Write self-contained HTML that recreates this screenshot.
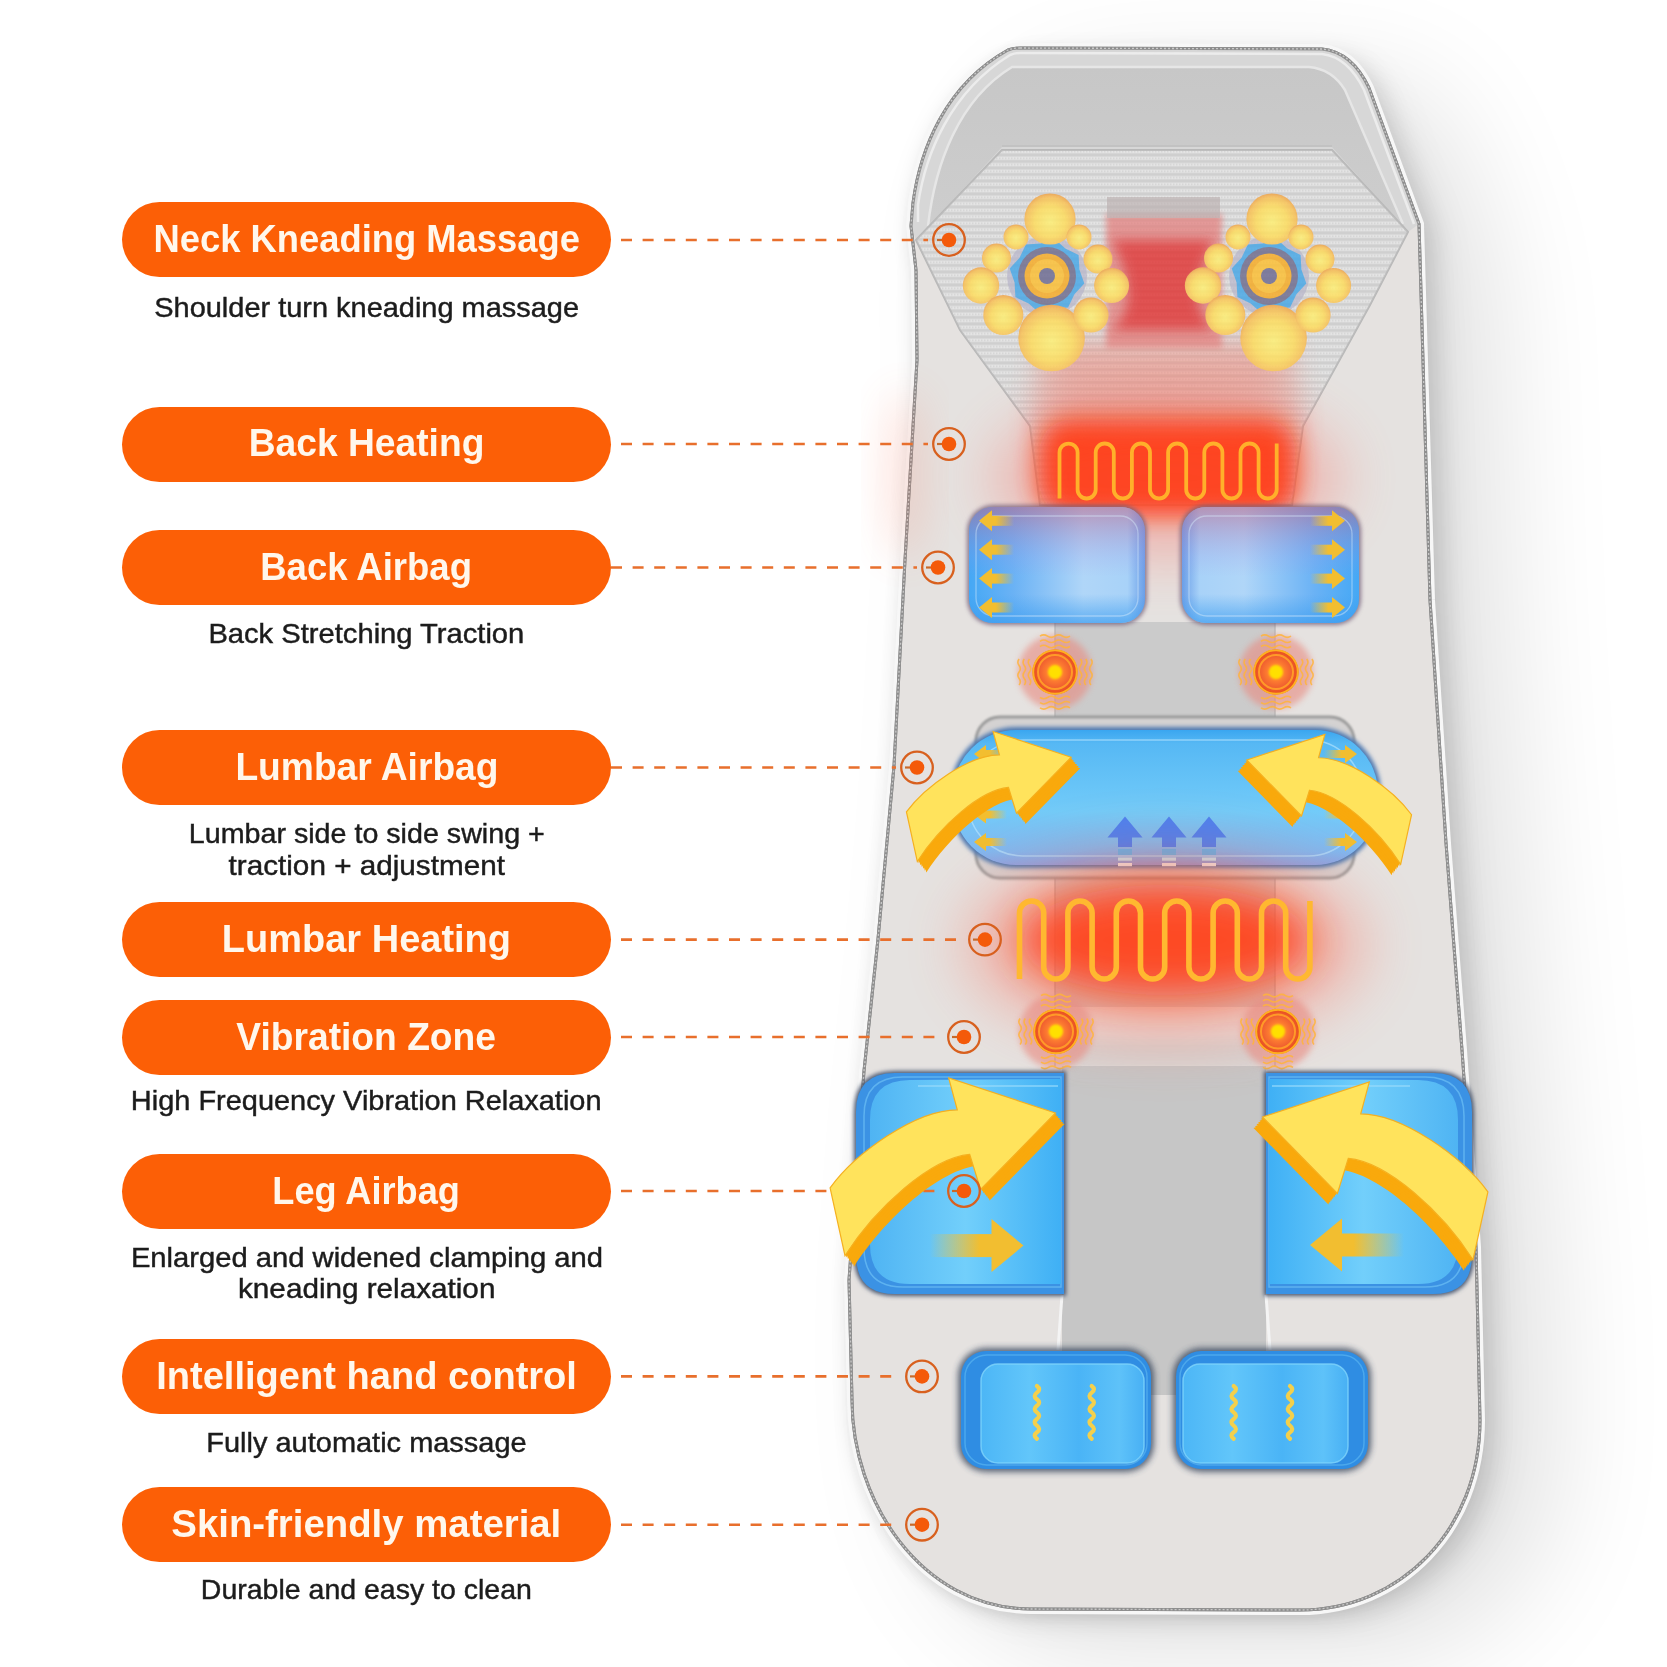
<!DOCTYPE html>
<html><head><meta charset="utf-8"><style>
html,body{margin:0;padding:0;background:#fff;width:1667px;height:1667px;overflow:hidden;position:relative}
svg{position:absolute;left:0;top:0}
.pill{position:absolute;left:122px;width:489px;height:75px;border-radius:37.5px;background:#fc5f06}
.t span,.s span{display:inline-block;transform-origin:50% 0}
.t{position:absolute;left:0;width:733.0px;text-align:center;font-family:"Liberation Sans",sans-serif;font-weight:bold;font-size:39.0px;line-height:39.0px;color:#fff7ec;white-space:nowrap}
.s{position:absolute;left:0;width:733.0px;text-align:center;font-family:"Liberation Sans",sans-serif;font-size:28.3px;line-height:28.3px;color:#1c1c1c;white-space:nowrap;-webkit-text-stroke:0.45px #1c1c1c}
</style></head><body>
<svg width="1667" height="1667" viewBox="0 0 1667 1667">
<defs>
<filter id="b1" x="-60%" y="-60%" width="220%" height="220%"><feGaussianBlur stdDeviation="1"/></filter>
<filter id="b2" x="-60%" y="-60%" width="220%" height="220%"><feGaussianBlur stdDeviation="2"/></filter>
<filter id="b3" x="-60%" y="-60%" width="220%" height="220%"><feGaussianBlur stdDeviation="3"/></filter>
<filter id="b4" x="-60%" y="-60%" width="220%" height="220%"><feGaussianBlur stdDeviation="4"/></filter>
<filter id="b6" x="-60%" y="-60%" width="220%" height="220%"><feGaussianBlur stdDeviation="6"/></filter>
<filter id="b8" x="-60%" y="-60%" width="220%" height="220%"><feGaussianBlur stdDeviation="8"/></filter>
<filter id="b12" x="-60%" y="-60%" width="220%" height="220%"><feGaussianBlur stdDeviation="12"/></filter>
<filter id="b20" x="-60%" y="-60%" width="220%" height="220%"><feGaussianBlur stdDeviation="20"/></filter>
<filter id="b30" x="-60%" y="-60%" width="220%" height="220%"><feGaussianBlur stdDeviation="30"/></filter>
<filter id="b40" x="-60%" y="-60%" width="220%" height="220%"><feGaussianBlur stdDeviation="40"/></filter>
<filter id="b60" x="-60%" y="-60%" width="220%" height="220%"><feGaussianBlur stdDeviation="60"/></filter>
<pattern id="mesh" width="6" height="6.5" patternUnits="userSpaceOnUse"><rect width="6" height="6.5" fill="#cfcfcf"/><rect y="0.5" width="6" height="3.4" fill="#e4e4e4"/><rect x="0" y="1.5" width="1.5" height="1.5" fill="#d4d4d4"/><rect x="3" y="1.5" width="1.5" height="1.5" fill="#d4d4d4"/></pattern>
<linearGradient id="bagL" x1="0" y1="0" x2="1" y2="0"><stop offset="0" stop-color="#45a8f5"/><stop offset="0.25" stop-color="#6ab2f5"/><stop offset="0.65" stop-color="#b0d6f8"/><stop offset="0.9" stop-color="#a8d2f8"/><stop offset="1" stop-color="#6a9ee8"/></linearGradient><linearGradient id="bagTop" x1="0" y1="0" x2="0" y2="1"><stop offset="0" stop-color="#c06080" stop-opacity="0.55"/><stop offset="0.45" stop-color="#a090e0" stop-opacity="0.15"/><stop offset="0.6" stop-color="#a090e0" stop-opacity="0"/></linearGradient><linearGradient id="bagBot" x1="0" y1="0" x2="0" y2="1"><stop offset="0.75" stop-color="#40a0f0" stop-opacity="0"/><stop offset="1" stop-color="#3a9cf0" stop-opacity="0.7"/></linearGradient>
<linearGradient id="bagR" x1="1" y1="0" x2="0" y2="0"><stop offset="0" stop-color="#45a8f5"/><stop offset="0.25" stop-color="#6ab2f5"/><stop offset="0.65" stop-color="#b0d6f8"/><stop offset="0.9" stop-color="#a8d2f8"/><stop offset="1" stop-color="#6a9ee8"/></linearGradient>
<linearGradient id="lumb" x1="0" y1="0" x2="0" y2="1"><stop offset="0" stop-color="#3aa6f0"/><stop offset="0.1" stop-color="#56b8f4"/><stop offset="0.6" stop-color="#72cbf9"/><stop offset="0.9" stop-color="#80b8f0"/><stop offset="1" stop-color="#8aa6e6"/></linearGradient>
<linearGradient id="legL" x1="0" y1="0" x2="1" y2="0"><stop offset="0" stop-color="#4fb4f3"/><stop offset="0.5" stop-color="#72cffb"/><stop offset="1" stop-color="#3fb0f5"/></linearGradient>
<linearGradient id="legR" x1="1" y1="0" x2="0" y2="0"><stop offset="0" stop-color="#4fb4f3"/><stop offset="0.5" stop-color="#72cffb"/><stop offset="1" stop-color="#3fb0f5"/></linearGradient>
<linearGradient id="foot" x1="0" y1="0" x2="1" y2="0"><stop offset="0" stop-color="#4cb6f6"/><stop offset="0.3" stop-color="#62c6fa"/><stop offset="0.6" stop-color="#4ab4f6"/><stop offset="0.85" stop-color="#5ec2f9"/><stop offset="1" stop-color="#48b0f4"/></linearGradient>
<radialGradient id="ball" cx="0.5" cy="0.55" r="0.55"><stop offset="0" stop-color="#fff070"/><stop offset="0.55" stop-color="#ffdc58"/><stop offset="0.85" stop-color="#fac050"/><stop offset="1" stop-color="#f0a044"/></radialGradient>
<radialGradient id="vib" cx="0.5" cy="0.5" r="0.5"><stop offset="0" stop-color="#ffd000"/><stop offset="0.35" stop-color="#ff8030"/><stop offset="0.7" stop-color="#f06030"/><stop offset="1" stop-color="#e64a1e"/></radialGradient>
<linearGradient id="tailR" x1="0" x2="1"><stop offset="0" stop-color="#f2c230" stop-opacity="0"/><stop offset="0.8" stop-color="#f2be30"/><stop offset="1" stop-color="#f2be30"/></linearGradient>
<linearGradient id="tailL" x1="1" x2="0"><stop offset="0" stop-color="#f2c230" stop-opacity="0"/><stop offset="0.8" stop-color="#f2be30"/><stop offset="1" stop-color="#f2be30"/></linearGradient>
<linearGradient id="shadR" x1="0" x2="1"><stop offset="0" stop-color="#cfcfcf"/><stop offset="1" stop-color="#ffffff" stop-opacity="0"/></linearGradient>
<linearGradient id="pillow" x1="0" y1="0" x2="0" y2="1"><stop offset="0" stop-color="#c7c7c7"/><stop offset="1" stop-color="#cecece"/></linearGradient>
</defs>
<path d="M1020,48 L1322,49 Q1352,52 1369,88 L1419,224 L1430,600 L1446,843 L1462,1050 L1476,1247 L1480,1420 C1480,1530 1400,1610 1300,1610 L1030,1609 C920,1608 852,1500 852,1400 L849,1280 L864,1071 L878,939 L894,766 L905,560 L917,360 L916,270 L911,226 L913,203 C920,150 945,85 1008,50 Q1013,48 1020,48 Z" transform="translate(70,40)" fill="#000" opacity="0.12" filter="url(#b60)"/>
<path d="M1020,48 L1322,49 Q1352,52 1369,88 L1419,224 L1430,600 L1446,843 L1462,1050 L1476,1247 L1480,1420 C1480,1530 1400,1610 1300,1610 L1030,1609 C920,1608 852,1500 852,1400 L849,1280 L864,1071 L878,939 L894,766 L905,560 L917,360 L916,270 L911,226 L913,203 C920,150 945,85 1008,50 Q1013,48 1020,48 Z" transform="translate(22,12)" fill="#000" opacity="0.05" filter="url(#b20)"/>
<path d="M1020,48 L1322,49 Q1352,52 1369,88 L1419,224 L1430,600 L1446,843 L1462,1050 L1476,1247 L1480,1420 C1480,1530 1400,1610 1300,1610 L1030,1609 C920,1608 852,1500 852,1400 L849,1280 L864,1071 L878,939 L894,766 L905,560 L917,360 L916,270 L911,226 L913,203 C920,150 945,85 1008,50 Q1013,48 1020,48 Z" transform="translate(12,8)" fill="#000" opacity="0.12" filter="url(#b12)"/>
<path d="M1020,48 L1322,49 Q1352,52 1369,88 L1419,224 L1430,600 L1446,843 L1462,1050 L1476,1247 L1480,1420 C1480,1530 1400,1610 1300,1610 L1030,1609 C920,1608 852,1500 852,1400 L849,1280 L864,1071 L878,939 L894,766 L905,560 L917,360 L916,270 L911,226 L913,203 C920,150 945,85 1008,50 Q1013,48 1020,48 Z" transform="translate(-6,4)" fill="#000" opacity="0.07" filter="url(#b8)"/>
<path d="M1020,48 L1322,49 Q1352,52 1369,88 L1419,224 L1430,600 L1446,843 L1462,1050 L1476,1247 L1480,1420 C1480,1530 1400,1610 1300,1610 L1030,1609 C920,1608 852,1500 852,1400 L849,1280 L864,1071 L878,939 L894,766 L905,560 L917,360 L916,270 L911,226 L913,203 C920,150 945,85 1008,50 Q1013,48 1020,48 Z" fill="#f7f7f7" stroke="#f7f7f7" stroke-width="10"/>
<path d="M1020,48 L1322,49 Q1352,52 1369,88 L1419,224 L1430,600 L1446,843 L1462,1050 L1476,1247 L1480,1420 C1480,1530 1400,1610 1300,1610 L1030,1609 C920,1608 852,1500 852,1400 L849,1280 L864,1071 L878,939 L894,766 L905,560 L917,360 L916,270 L911,226 L913,203 C920,150 945,85 1008,50 Q1013,48 1020,48 Z" fill="#e5e2e0"/>
<path d="M1020,48 L1322,49 Q1352,52 1369,88 L1419,224 L1430,600 L1446,843 L1462,1050 L1476,1247 L1480,1420 C1480,1530 1400,1610 1300,1610 L1030,1609 C920,1608 852,1500 852,1400 L849,1280 L864,1071 L878,939 L894,766 L905,560 L917,360 L916,270 L911,226 L913,203 C920,150 945,85 1008,50 Q1013,48 1020,48 Z" fill="none" stroke="#8e8e8e" stroke-width="3"/>
<path d="M1020,48 L1322,49 Q1352,52 1369,88 L1419,224 L1430,600 L1446,843 L1462,1050 L1476,1247 L1480,1420 C1480,1530 1400,1610 1300,1610 L1030,1609 C920,1608 852,1500 852,1400 L849,1280 L864,1071 L878,939 L894,766 L905,560 L917,360 L916,270 L911,226 L913,203 C920,150 945,85 1008,50 Q1013,48 1020,48 Z" fill="none" stroke="#c8c8c8" stroke-width="1.3" stroke-dasharray="2 2"/>
<path d="M1020,48 L1322,49 Q1352,52 1369,88 L1419,224 L1408,232 L916,240 L911,226 L913,203 C920,150 945,85 1008,50 Q1013,48 1020,48 Z" fill="#d7d7d7"/>
<path d="M918,222 L918,205 C925,155 950,92 1010,55 Q1015,53 1020,53 L1322,54 Q1348,57 1364,90 L1414,224" fill="none" stroke="#ececec" stroke-width="2.5"/>
<path d="M1012,67 L1309,67 Q1332,69 1345,90 L1403,224 L1408,232 L1332,147 L1002,147 L916,240 L928,226 C935,165 958,100 1012,67 Z" fill="url(#pillow)"/>
<path d="M928,226 C935,165 958,100 1012,67 L1309,67 Q1332,69 1345,90 L1403,224" fill="none" stroke="#e6e6e6" stroke-width="2.5"/>
<path d="M1002,146 L1332,146" fill="none" stroke="#c2c2c2" stroke-width="2"/>
<path d="M1020,48 L1322,49 Q1352,52 1369,88 L1419,224 L1430,600 L1446,843 L1462,1050 L1476,1247 L1480,1420 C1480,1530 1400,1610 1300,1610 L1030,1609 C920,1608 852,1500 852,1400 L849,1280 L864,1071 L878,939 L894,766 L905,560 L917,360 L916,270 L911,226 L913,203 C920,150 945,85 1008,50 Q1013,48 1020,48 Z" fill="none" stroke="#8e8e8e" stroke-width="3"/>
<path d="M1020,48 L1322,49 Q1352,52 1369,88 L1419,224 L1430,600 L1446,843 L1462,1050 L1476,1247 L1480,1420 C1480,1530 1400,1610 1300,1610 L1030,1609 C920,1608 852,1500 852,1400 L849,1280 L864,1071 L878,939 L894,766 L905,560 L917,360 L916,270 L911,226 L913,203 C920,150 945,85 1008,50 Q1013,48 1020,48 Z" fill="none" stroke="#c8c8c8" stroke-width="1.3" stroke-dasharray="2 2"/>
<path d="M1002,150 L1332,150 L1408,232 L1370,305 L1303,426 L1292,505 L1040,505 L1030,426 L960,330 L916,240 Z" fill="url(#mesh)"/>
<path d="M1002,150 L1332,150 L1408,232 L1370,305 L1303,426 L1292,505 L1040,505 L1030,426 L960,330 L916,240 Z" fill="none" stroke="#b8b8b8" stroke-width="2"/>
<rect x="1055" y="622" width="220" height="105" fill="#cbcbcb"/>
<rect x="1055" y="867" width="220" height="140" fill="#d0cfcf"/>
<rect x="1062" y="1066" width="204" height="329" fill="#c6c6c6"/>
<rect x="1062" y="1040" width="204" height="30" fill="#c6c6c6" opacity="0.5" filter="url(#b8)"/>
<line x1="1055" y1="622" x2="1055" y2="1066" stroke="#b9b9b9" stroke-width="2" opacity="0.7"/>
<line x1="1275" y1="622" x2="1275" y2="1066" stroke="#b9b9b9" stroke-width="2" opacity="0.7"/>
<path d="M1062,1295 L1058,1350" stroke="#f4f4f4" stroke-width="3"/><path d="M1266,1295 L1270,1350" stroke="#f4f4f4" stroke-width="3"/>
<path d="M1040,340 L1292,340 L1303,426 L1292,505 L1040,505 L1030,426 Z" fill="#f08070" opacity="0.45" filter="url(#b12)"/>
<rect x="1106" y="214" width="116" height="134" fill="#e47a78" opacity="0.85" filter="url(#b3)"/>
<rect x="1060" y="350" width="210" height="80" fill="#f07a6a" opacity="0.22" filter="url(#b12)"/>
<path d="M1112,240 L1214,240 Q1196,275 1198,300 Q1200,318 1214,330 L1112,330 Q1126,318 1128,300 Q1130,275 1112,240 Z" fill="#e02a2a" opacity="0.9" filter="url(#b6)"/>
<rect x="1107" y="197" width="113" height="21" fill="#b8acac" opacity="0.75"/>
<circle cx="1047" cy="276" r="40" fill="#b4b2c8" opacity="0.8"/><polygon points="1084.3,283.4 1074.4,294.3 1068.1,307.6 1053.4,308.4 1039.6,313.3 1028.7,303.4 1015.4,297.1 1014.6,282.4 1009.7,268.6 1019.6,257.7 1025.9,244.4 1040.6,243.6 1054.4,238.7 1065.3,248.6 1078.6,254.9 1079.4,269.6" fill="#45a6e6"/><circle cx="1047" cy="276" r="29" fill="#6c6a8c"/><circle cx="1047" cy="276" r="22.5" fill="#f6aa22"/><circle cx="1047" cy="276" r="17" fill="#fcbe30"/><circle cx="1047" cy="276" r="8" fill="#6a6890"/><circle cx="1050" cy="219" r="25.6" fill="url(#ball)"/><circle cx="1051.6" cy="338" r="33.3" fill="url(#ball)"/><circle cx="1016" cy="237" r="12.5" fill="url(#ball)"/><circle cx="1079" cy="237" r="12.5" fill="url(#ball)"/><circle cx="996.5" cy="258" r="14.5" fill="url(#ball)"/><circle cx="1098" cy="259" r="14.5" fill="url(#ball)"/><circle cx="981" cy="285.5" r="18.2" fill="url(#ball)"/><circle cx="1111.6" cy="285.5" r="17.5" fill="url(#ball)"/><circle cx="1003.3" cy="315" r="20" fill="url(#ball)"/><circle cx="1091" cy="315" r="17.6" fill="url(#ball)"/>
<circle cx="1269" cy="276" r="40" fill="#b4b2c8" opacity="0.8"/><polygon points="1306.3,283.4 1296.4,294.3 1290.1,307.6 1275.4,308.4 1261.6,313.3 1250.7,303.4 1237.4,297.1 1236.6,282.4 1231.7,268.6 1241.6,257.7 1247.9,244.4 1262.6,243.6 1276.4,238.7 1287.3,248.6 1300.6,254.9 1301.4,269.6" fill="#45a6e6"/><circle cx="1269" cy="276" r="29" fill="#6c6a8c"/><circle cx="1269" cy="276" r="22.5" fill="#f6aa22"/><circle cx="1269" cy="276" r="17" fill="#fcbe30"/><circle cx="1269" cy="276" r="8" fill="#6a6890"/><circle cx="1272" cy="219" r="25.6" fill="url(#ball)"/><circle cx="1273.6" cy="338" r="33.3" fill="url(#ball)"/><circle cx="1238" cy="237" r="12.5" fill="url(#ball)"/><circle cx="1301" cy="237" r="12.5" fill="url(#ball)"/><circle cx="1218.5" cy="258" r="14.5" fill="url(#ball)"/><circle cx="1320" cy="259" r="14.5" fill="url(#ball)"/><circle cx="1203" cy="285.5" r="18.2" fill="url(#ball)"/><circle cx="1333.6" cy="285.5" r="17.5" fill="url(#ball)"/><circle cx="1225.3" cy="315" r="20" fill="url(#ball)"/><circle cx="1313" cy="315" r="17.6" fill="url(#ball)"/>
<path d="M1002,150 L1332,150 L1408,232 L1370,305 L1303,426 L1292,505 L1040,505 L1030,426 L960,330 L916,240 Z" fill="url(#mesh)" opacity="0.18"/>
<rect x="1040" y="420" width="255" height="95" rx="30" fill="#ff3a10" opacity="0.95" filter="url(#b12)"/>
<ellipse cx="1167" cy="478" rx="175" ry="78" fill="#ff5040" opacity="0.32" filter="url(#b30)"/>
<ellipse cx="905" cy="475" rx="20" ry="85" fill="#ff7050" opacity="0.18" filter="url(#b20)"/>
<path d="M1059.5,498.5 L1059.5,452.55 A9.05,9.05 0 0 1 1077.6,452.55 L1077.6,489.45 A9.05,9.05 0 0 0 1095.6999999999998,489.45 L1095.6999999999998,452.55 A9.05,9.05 0 0 1 1113.7999999999997,452.55 L1113.7999999999997,489.45 A9.05,9.05 0 0 0 1131.8999999999996,489.45 L1131.8999999999996,452.55 A9.05,9.05 0 0 1 1149.9999999999995,452.55 L1149.9999999999995,489.45 A9.05,9.05 0 0 0 1168.0999999999995,489.45 L1168.0999999999995,452.55 A9.05,9.05 0 0 1 1186.1999999999994,452.55 L1186.1999999999994,489.45 A9.05,9.05 0 0 0 1204.2999999999993,489.45 L1204.2999999999993,452.55 A9.05,9.05 0 0 1 1222.3999999999992,452.55 L1222.3999999999992,489.45 A9.05,9.05 0 0 0 1240.499999999999,489.45 L1240.499999999999,452.55 A9.05,9.05 0 0 1 1258.599999999999,452.55 L1258.599999999999,489.45 A9.05,9.05 0 0 0 1276.699999999999,489.45 L1276.699999999999,443.5" fill="none" stroke="#ffb02a" stroke-width="3.8"/>
<rect x="967" y="505" width="180" height="120" rx="26" fill="#74607a" opacity="0.8" filter="url(#b2)"/><rect x="969" y="507" width="176" height="116" rx="24" fill="url(#bagL)"/><rect x="969" y="507" width="176" height="116" rx="24" fill="url(#bagTop)"/><rect x="969" y="507" width="176" height="116" rx="24" fill="url(#bagBot)"/><rect x="976" y="516" width="162" height="100" rx="18" fill="none" stroke="#d8ecfb" stroke-width="1.3" opacity="0.45"/>
<rect x="1180" y="505" width="181" height="120" rx="26" fill="#74607a" opacity="0.8" filter="url(#b2)"/><rect x="1182" y="507" width="177" height="116" rx="24" fill="url(#bagR)"/><rect x="1182" y="507" width="177" height="116" rx="24" fill="url(#bagTop)"/><rect x="1182" y="507" width="177" height="116" rx="24" fill="url(#bagBot)"/><rect x="1189" y="516" width="163" height="100" rx="18" fill="none" stroke="#d8ecfb" stroke-width="1.3" opacity="0.45"/>
<rect x="991" y="515.8" width="23" height="10" fill="url(#tailL)"/><path d="M979,520.8 L992,510.29999999999995 L992,531.3 Z" fill="#f2be30"/>
<rect x="1310" y="515.8" width="23" height="10" fill="url(#tailR)"/><path d="M1345,520.8 L1332,510.29999999999995 L1332,531.3 Z" fill="#f2be30"/>
<rect x="991" y="544.7" width="23" height="10" fill="url(#tailL)"/><path d="M979,549.7 L992,539.2 L992,560.2 Z" fill="#f2be30"/>
<rect x="1310" y="544.7" width="23" height="10" fill="url(#tailR)"/><path d="M1345,549.7 L1332,539.2 L1332,560.2 Z" fill="#f2be30"/>
<rect x="991" y="573.6" width="23" height="10" fill="url(#tailL)"/><path d="M979,578.6 L992,568.1 L992,589.1 Z" fill="#f2be30"/>
<rect x="1310" y="573.6" width="23" height="10" fill="url(#tailR)"/><path d="M1345,578.6 L1332,568.1 L1332,589.1 Z" fill="#f2be30"/>
<rect x="991" y="602.5" width="23" height="10" fill="url(#tailL)"/><path d="M979,607.5 L992,597.0 L992,618.0 Z" fill="#f2be30"/>
<rect x="1310" y="602.5" width="23" height="10" fill="url(#tailR)"/><path d="M1345,607.5 L1332,597.0 L1332,618.0 Z" fill="#f2be30"/>
<circle cx="1055" cy="672" r="37" fill="#e88a80" opacity="0.6" filter="url(#b3)"/><circle cx="1055" cy="672" r="22.5" fill="url(#vib)"/><circle cx="1055" cy="672" r="21.8" fill="none" stroke="#ffb020" stroke-width="2"/><circle cx="1055" cy="672" r="17" fill="none" stroke="#ff9a28" stroke-width="2"/><circle cx="1055" cy="672" r="7" fill="#ffe000" filter="url(#b1)"/><path d="M1029.5,659 q-2.5,3.25 0,6.5 q2.5,3.25 0,6.5 q-2.5,3.25 0,6.5 q2.5,3.25 0,6.5" fill="none" stroke="#ffb43a" stroke-width="1.6" opacity="0.85"/><path d="M1080.5,659 q2.5,3.25 0,6.5 q-2.5,3.25 0,6.5 q2.5,3.25 0,6.5 q-2.5,3.25 0,6.5" fill="none" stroke="#ffb43a" stroke-width="1.6" opacity="0.85"/><path d="M1040,646.5 q3.75,-2.5 7.5,0 q3.75,2.5 7.5,0 q3.75,-2.5 7.5,0 q3.75,2.5 7.5,0" fill="none" stroke="#ffb43a" stroke-width="1.6" opacity="0.85"/><path d="M1040,697.5 q3.75,2.5 7.5,0 q3.75,-2.5 7.5,0 q3.75,2.5 7.5,0 q3.75,-2.5 7.5,0" fill="none" stroke="#ffb43a" stroke-width="1.6" opacity="0.85"/><path d="M1024.3,659 q-2.5,3.25 0,6.5 q2.5,3.25 0,6.5 q-2.5,3.25 0,6.5 q2.5,3.25 0,6.5" fill="none" stroke="#ffb43a" stroke-width="1.6" opacity="0.85"/><path d="M1085.7,659 q2.5,3.25 0,6.5 q-2.5,3.25 0,6.5 q2.5,3.25 0,6.5 q-2.5,3.25 0,6.5" fill="none" stroke="#ffb43a" stroke-width="1.6" opacity="0.85"/><path d="M1040,641.3 q3.75,-2.5 7.5,0 q3.75,2.5 7.5,0 q3.75,-2.5 7.5,0 q3.75,2.5 7.5,0" fill="none" stroke="#ffb43a" stroke-width="1.6" opacity="0.85"/><path d="M1040,702.7 q3.75,2.5 7.5,0 q3.75,-2.5 7.5,0 q3.75,2.5 7.5,0 q3.75,-2.5 7.5,0" fill="none" stroke="#ffb43a" stroke-width="1.6" opacity="0.85"/><path d="M1019.1,659 q-2.5,3.25 0,6.5 q2.5,3.25 0,6.5 q-2.5,3.25 0,6.5 q2.5,3.25 0,6.5" fill="none" stroke="#ffb43a" stroke-width="1.6" opacity="0.85"/><path d="M1090.9,659 q2.5,3.25 0,6.5 q-2.5,3.25 0,6.5 q2.5,3.25 0,6.5 q-2.5,3.25 0,6.5" fill="none" stroke="#ffb43a" stroke-width="1.6" opacity="0.85"/><path d="M1040,636.1 q3.75,-2.5 7.5,0 q3.75,2.5 7.5,0 q3.75,-2.5 7.5,0 q3.75,2.5 7.5,0" fill="none" stroke="#ffb43a" stroke-width="1.6" opacity="0.85"/><path d="M1040,707.9 q3.75,2.5 7.5,0 q3.75,-2.5 7.5,0 q3.75,2.5 7.5,0 q3.75,-2.5 7.5,0" fill="none" stroke="#ffb43a" stroke-width="1.6" opacity="0.85"/>
<circle cx="1276" cy="672" r="37" fill="#e88a80" opacity="0.6" filter="url(#b3)"/><circle cx="1276" cy="672" r="22.5" fill="url(#vib)"/><circle cx="1276" cy="672" r="21.8" fill="none" stroke="#ffb020" stroke-width="2"/><circle cx="1276" cy="672" r="17" fill="none" stroke="#ff9a28" stroke-width="2"/><circle cx="1276" cy="672" r="7" fill="#ffe000" filter="url(#b1)"/><path d="M1250.5,659 q-2.5,3.25 0,6.5 q2.5,3.25 0,6.5 q-2.5,3.25 0,6.5 q2.5,3.25 0,6.5" fill="none" stroke="#ffb43a" stroke-width="1.6" opacity="0.85"/><path d="M1301.5,659 q2.5,3.25 0,6.5 q-2.5,3.25 0,6.5 q2.5,3.25 0,6.5 q-2.5,3.25 0,6.5" fill="none" stroke="#ffb43a" stroke-width="1.6" opacity="0.85"/><path d="M1261,646.5 q3.75,-2.5 7.5,0 q3.75,2.5 7.5,0 q3.75,-2.5 7.5,0 q3.75,2.5 7.5,0" fill="none" stroke="#ffb43a" stroke-width="1.6" opacity="0.85"/><path d="M1261,697.5 q3.75,2.5 7.5,0 q3.75,-2.5 7.5,0 q3.75,2.5 7.5,0 q3.75,-2.5 7.5,0" fill="none" stroke="#ffb43a" stroke-width="1.6" opacity="0.85"/><path d="M1245.3,659 q-2.5,3.25 0,6.5 q2.5,3.25 0,6.5 q-2.5,3.25 0,6.5 q2.5,3.25 0,6.5" fill="none" stroke="#ffb43a" stroke-width="1.6" opacity="0.85"/><path d="M1306.7,659 q2.5,3.25 0,6.5 q-2.5,3.25 0,6.5 q2.5,3.25 0,6.5 q-2.5,3.25 0,6.5" fill="none" stroke="#ffb43a" stroke-width="1.6" opacity="0.85"/><path d="M1261,641.3 q3.75,-2.5 7.5,0 q3.75,2.5 7.5,0 q3.75,-2.5 7.5,0 q3.75,2.5 7.5,0" fill="none" stroke="#ffb43a" stroke-width="1.6" opacity="0.85"/><path d="M1261,702.7 q3.75,2.5 7.5,0 q3.75,-2.5 7.5,0 q3.75,2.5 7.5,0 q3.75,-2.5 7.5,0" fill="none" stroke="#ffb43a" stroke-width="1.6" opacity="0.85"/><path d="M1240.1,659 q-2.5,3.25 0,6.5 q2.5,3.25 0,6.5 q-2.5,3.25 0,6.5 q2.5,3.25 0,6.5" fill="none" stroke="#ffb43a" stroke-width="1.6" opacity="0.85"/><path d="M1311.9,659 q2.5,3.25 0,6.5 q-2.5,3.25 0,6.5 q2.5,3.25 0,6.5 q-2.5,3.25 0,6.5" fill="none" stroke="#ffb43a" stroke-width="1.6" opacity="0.85"/><path d="M1261,636.1 q3.75,-2.5 7.5,0 q3.75,2.5 7.5,0 q3.75,-2.5 7.5,0 q3.75,2.5 7.5,0" fill="none" stroke="#ffb43a" stroke-width="1.6" opacity="0.85"/><path d="M1261,707.9 q3.75,2.5 7.5,0 q3.75,-2.5 7.5,0 q3.75,2.5 7.5,0 q3.75,-2.5 7.5,0" fill="none" stroke="#ffb43a" stroke-width="1.6" opacity="0.85"/>
<rect x="976" y="717" width="378" height="161" rx="24" fill="#d4d2d2" stroke="#9a9a9a" stroke-width="3" filter="url(#b1)"/>
<rect x="950" y="727" width="431" height="141" rx="66" fill="#4e78b0" filter="url(#b2)"/>
<rect x="953" y="730" width="425" height="135" rx="63" fill="url(#lumb)"/>
<rect x="968" y="740" width="395" height="116" rx="55" fill="none" stroke="#bde8ff" stroke-width="1.5" opacity="0.6"/>
<path d="M1125,816.5 L1142.5,837.5 L1132,837.5 L1132,847 L1118,847 L1118,837.5 L1107.5,837.5 Z" fill="#4a82f2"/>
<rect x="1118" y="849" width="14" height="6" fill="#5cb8f2"/><rect x="1118" y="857.5" width="14" height="3.2" fill="#bdeeff"/><rect x="1118" y="863" width="14" height="3.2" fill="#e6fbff"/>
<path d="M1169,816.5 L1186.5,837.5 L1176,837.5 L1176,847 L1162,847 L1162,837.5 L1151.5,837.5 Z" fill="#4a82f2"/>
<rect x="1162" y="849" width="14" height="6" fill="#5cb8f2"/><rect x="1162" y="857.5" width="14" height="3.2" fill="#bdeeff"/><rect x="1162" y="863" width="14" height="3.2" fill="#e6fbff"/>
<path d="M1209,816.5 L1226.5,837.5 L1216,837.5 L1216,847 L1202,847 L1202,837.5 L1191.5,837.5 Z" fill="#4a82f2"/>
<rect x="1202" y="849" width="14" height="6" fill="#5cb8f2"/><rect x="1202" y="857.5" width="14" height="3.2" fill="#bdeeff"/><rect x="1202" y="863" width="14" height="3.2" fill="#e6fbff"/>
<rect x="985" y="750.0" width="22" height="8" fill="url(#tailL)"/><path d="M974,754 L986,745 L986,763 Z" fill="#f2be30"/>
<rect x="1324" y="750.0" width="22" height="8" fill="url(#tailR)"/><path d="M1357,754 L1345,745 L1345,763 Z" fill="#f2be30"/>
<rect x="985" y="810.5" width="22" height="8" fill="url(#tailL)"/><path d="M974,814.5 L986,805.5 L986,823.5 Z" fill="#f2be30"/>
<rect x="1324" y="810.5" width="22" height="8" fill="url(#tailR)"/><path d="M1357,814.5 L1345,805.5 L1345,823.5 Z" fill="#f2be30"/>
<rect x="985" y="838.0" width="22" height="8" fill="url(#tailL)"/><path d="M974,842 L986,833 L986,851 Z" fill="#f2be30"/>
<rect x="1324" y="838.0" width="22" height="8" fill="url(#tailR)"/><path d="M1357,842 L1345,833 L1345,851 Z" fill="#f2be30"/>
<ellipse cx="1165" cy="940" rx="145" ry="55" fill="#ff3a10" opacity="0.95" filter="url(#b20)"/>
<ellipse cx="1165" cy="945" rx="200" ry="95" fill="#ff5a40" opacity="0.35" filter="url(#b30)"/>
<path d="M1019.5,979 L1019.5,913.1 A12.1,12.1 0 0 1 1043.7,913.1 L1043.7,966.9 A12.1,12.1 0 0 0 1067.9,966.9 L1067.9,913.1 A12.1,12.1 0 0 1 1092.1000000000001,913.1 L1092.1000000000001,966.9 A12.1,12.1 0 0 0 1116.3000000000002,966.9 L1116.3000000000002,913.1 A12.1,12.1 0 0 1 1140.5000000000002,913.1 L1140.5000000000002,966.9 A12.1,12.1 0 0 0 1164.7000000000003,966.9 L1164.7000000000003,913.1 A12.1,12.1 0 0 1 1188.9000000000003,913.1 L1188.9000000000003,966.9 A12.1,12.1 0 0 0 1213.1000000000004,966.9 L1213.1000000000004,913.1 A12.1,12.1 0 0 1 1237.3000000000004,913.1 L1237.3000000000004,966.9 A12.1,12.1 0 0 0 1261.5000000000005,966.9 L1261.5000000000005,913.1 A12.1,12.1 0 0 1 1285.7000000000005,913.1 L1285.7000000000005,966.9 A12.1,12.1 0 0 0 1309.9000000000005,966.9 L1309.9000000000005,901" fill="none" stroke="#ffb830" stroke-width="5.6"/>
<circle cx="1056" cy="1031.5" r="37" fill="#e88a80" opacity="0.6" filter="url(#b3)"/><circle cx="1056" cy="1031.5" r="22.5" fill="url(#vib)"/><circle cx="1056" cy="1031.5" r="21.8" fill="none" stroke="#ffb020" stroke-width="2"/><circle cx="1056" cy="1031.5" r="17" fill="none" stroke="#ff9a28" stroke-width="2"/><circle cx="1056" cy="1031.5" r="7" fill="#ffe000" filter="url(#b1)"/><path d="M1030.5,1018.5 q-2.5,3.25 0,6.5 q2.5,3.25 0,6.5 q-2.5,3.25 0,6.5 q2.5,3.25 0,6.5" fill="none" stroke="#ffb43a" stroke-width="1.6" opacity="0.85"/><path d="M1081.5,1018.5 q2.5,3.25 0,6.5 q-2.5,3.25 0,6.5 q2.5,3.25 0,6.5 q-2.5,3.25 0,6.5" fill="none" stroke="#ffb43a" stroke-width="1.6" opacity="0.85"/><path d="M1041,1006.0 q3.75,-2.5 7.5,0 q3.75,2.5 7.5,0 q3.75,-2.5 7.5,0 q3.75,2.5 7.5,0" fill="none" stroke="#ffb43a" stroke-width="1.6" opacity="0.85"/><path d="M1041,1057.0 q3.75,2.5 7.5,0 q3.75,-2.5 7.5,0 q3.75,2.5 7.5,0 q3.75,-2.5 7.5,0" fill="none" stroke="#ffb43a" stroke-width="1.6" opacity="0.85"/><path d="M1025.3,1018.5 q-2.5,3.25 0,6.5 q2.5,3.25 0,6.5 q-2.5,3.25 0,6.5 q2.5,3.25 0,6.5" fill="none" stroke="#ffb43a" stroke-width="1.6" opacity="0.85"/><path d="M1086.7,1018.5 q2.5,3.25 0,6.5 q-2.5,3.25 0,6.5 q2.5,3.25 0,6.5 q-2.5,3.25 0,6.5" fill="none" stroke="#ffb43a" stroke-width="1.6" opacity="0.85"/><path d="M1041,1000.8 q3.75,-2.5 7.5,0 q3.75,2.5 7.5,0 q3.75,-2.5 7.5,0 q3.75,2.5 7.5,0" fill="none" stroke="#ffb43a" stroke-width="1.6" opacity="0.85"/><path d="M1041,1062.2 q3.75,2.5 7.5,0 q3.75,-2.5 7.5,0 q3.75,2.5 7.5,0 q3.75,-2.5 7.5,0" fill="none" stroke="#ffb43a" stroke-width="1.6" opacity="0.85"/><path d="M1020.1,1018.5 q-2.5,3.25 0,6.5 q2.5,3.25 0,6.5 q-2.5,3.25 0,6.5 q2.5,3.25 0,6.5" fill="none" stroke="#ffb43a" stroke-width="1.6" opacity="0.85"/><path d="M1091.9,1018.5 q2.5,3.25 0,6.5 q-2.5,3.25 0,6.5 q2.5,3.25 0,6.5 q-2.5,3.25 0,6.5" fill="none" stroke="#ffb43a" stroke-width="1.6" opacity="0.85"/><path d="M1041,995.6 q3.75,-2.5 7.5,0 q3.75,2.5 7.5,0 q3.75,-2.5 7.5,0 q3.75,2.5 7.5,0" fill="none" stroke="#ffb43a" stroke-width="1.6" opacity="0.85"/><path d="M1041,1067.4 q3.75,2.5 7.5,0 q3.75,-2.5 7.5,0 q3.75,2.5 7.5,0 q3.75,-2.5 7.5,0" fill="none" stroke="#ffb43a" stroke-width="1.6" opacity="0.85"/>
<circle cx="1278" cy="1031.5" r="37" fill="#e88a80" opacity="0.6" filter="url(#b3)"/><circle cx="1278" cy="1031.5" r="22.5" fill="url(#vib)"/><circle cx="1278" cy="1031.5" r="21.8" fill="none" stroke="#ffb020" stroke-width="2"/><circle cx="1278" cy="1031.5" r="17" fill="none" stroke="#ff9a28" stroke-width="2"/><circle cx="1278" cy="1031.5" r="7" fill="#ffe000" filter="url(#b1)"/><path d="M1252.5,1018.5 q-2.5,3.25 0,6.5 q2.5,3.25 0,6.5 q-2.5,3.25 0,6.5 q2.5,3.25 0,6.5" fill="none" stroke="#ffb43a" stroke-width="1.6" opacity="0.85"/><path d="M1303.5,1018.5 q2.5,3.25 0,6.5 q-2.5,3.25 0,6.5 q2.5,3.25 0,6.5 q-2.5,3.25 0,6.5" fill="none" stroke="#ffb43a" stroke-width="1.6" opacity="0.85"/><path d="M1263,1006.0 q3.75,-2.5 7.5,0 q3.75,2.5 7.5,0 q3.75,-2.5 7.5,0 q3.75,2.5 7.5,0" fill="none" stroke="#ffb43a" stroke-width="1.6" opacity="0.85"/><path d="M1263,1057.0 q3.75,2.5 7.5,0 q3.75,-2.5 7.5,0 q3.75,2.5 7.5,0 q3.75,-2.5 7.5,0" fill="none" stroke="#ffb43a" stroke-width="1.6" opacity="0.85"/><path d="M1247.3,1018.5 q-2.5,3.25 0,6.5 q2.5,3.25 0,6.5 q-2.5,3.25 0,6.5 q2.5,3.25 0,6.5" fill="none" stroke="#ffb43a" stroke-width="1.6" opacity="0.85"/><path d="M1308.7,1018.5 q2.5,3.25 0,6.5 q-2.5,3.25 0,6.5 q2.5,3.25 0,6.5 q-2.5,3.25 0,6.5" fill="none" stroke="#ffb43a" stroke-width="1.6" opacity="0.85"/><path d="M1263,1000.8 q3.75,-2.5 7.5,0 q3.75,2.5 7.5,0 q3.75,-2.5 7.5,0 q3.75,2.5 7.5,0" fill="none" stroke="#ffb43a" stroke-width="1.6" opacity="0.85"/><path d="M1263,1062.2 q3.75,2.5 7.5,0 q3.75,-2.5 7.5,0 q3.75,2.5 7.5,0 q3.75,-2.5 7.5,0" fill="none" stroke="#ffb43a" stroke-width="1.6" opacity="0.85"/><path d="M1242.1,1018.5 q-2.5,3.25 0,6.5 q2.5,3.25 0,6.5 q-2.5,3.25 0,6.5 q2.5,3.25 0,6.5" fill="none" stroke="#ffb43a" stroke-width="1.6" opacity="0.85"/><path d="M1313.9,1018.5 q2.5,3.25 0,6.5 q-2.5,3.25 0,6.5 q2.5,3.25 0,6.5 q-2.5,3.25 0,6.5" fill="none" stroke="#ffb43a" stroke-width="1.6" opacity="0.85"/><path d="M1263,995.6 q3.75,-2.5 7.5,0 q3.75,2.5 7.5,0 q3.75,-2.5 7.5,0 q3.75,2.5 7.5,0" fill="none" stroke="#ffb43a" stroke-width="1.6" opacity="0.85"/><path d="M1263,1067.4 q3.75,2.5 7.5,0 q3.75,-2.5 7.5,0 q3.75,2.5 7.5,0 q3.75,-2.5 7.5,0" fill="none" stroke="#ffb43a" stroke-width="1.6" opacity="0.85"/>
<path d="M895,1071 L1066,1071 L1066,1296 L895,1296 Q854,1296 854,1255 L854,1112 Q854,1071 895,1071 Z" fill="#4a5670" filter="url(#b2)"/>
<path d="M895,1073 L1064,1073 L1064,1294 L895,1294 Q856,1294 856,1255 L856,1112 Q856,1073 895,1073 Z" fill="#3b92e4"/>
<path d="M903,1077 L1061,1077 L1061,1287 L903,1287 Q864,1287 864,1248 L864,1116 Q864,1077 903,1077 Z" fill="none" stroke="#6cc0f5" stroke-width="1.5" opacity="0.7"/>
<path d="M910,1080 L1061,1079 L1061,1284 L910,1284 Q870,1284 870,1244 L870,1120 Q870,1080 910,1080 Z" fill="url(#legL)"/>
<path d="M918,1086 L1058,1086" stroke="#9adcfc" stroke-width="2" opacity="0.6"/>
<path d="M1264,1071 L1433,1071 Q1474,1071 1474,1112 L1474,1255 Q1474,1296 1433,1296 L1264,1296 Z" fill="#4a5670" filter="url(#b2)"/>
<path d="M1266,1073 L1433,1073 Q1472,1073 1472,1112 L1472,1255 Q1472,1294 1433,1294 L1266,1294 Z" fill="#3b92e4"/>
<path d="M1269,1077 L1425,1077 Q1464,1077 1464,1116 L1464,1248 Q1464,1287 1425,1287 L1269,1287 Z" fill="none" stroke="#6cc0f5" stroke-width="1.5" opacity="0.7"/>
<path d="M1269,1079 L1418,1080 Q1458,1080 1458,1120 L1458,1244 Q1458,1284 1418,1284 L1269,1284 Z" fill="url(#legR)"/>
<path d="M1272,1086 L1410,1086" stroke="#9adcfc" stroke-width="2" opacity="0.6"/>
<rect x="929.5" y="1234.1" width="63" height="23" fill="url(#tailR)"/><path d="M1023.5,1245.6 L991.5,1219.1 L991.5,1272.1 Z" fill="#f2be30"/>
<rect x="1341" y="1233.5" width="63" height="23" fill="url(#tailL)"/><path d="M1310,1245 L1342,1218.5 L1342,1271.5 Z" fill="#f2be30"/>
<rect x="958" y="1348" width="196" height="124" rx="28" fill="#2c3a52" opacity="0.75" filter="url(#b3)"/><rect x="961" y="1351" width="190" height="118" rx="25" fill="#2f8de3"/><rect x="965" y="1355" width="182" height="110" rx="22" fill="none" stroke="#58b4f0" stroke-width="1.5" opacity="0.7"/><rect x="981" y="1364" width="163" height="99" rx="17" fill="url(#foot)"/><rect x="981" y="1364" width="163" height="99" rx="17" fill="none" stroke="#7fd4fb" stroke-width="1.5" opacity="0.8"/>
<rect x="1173" y="1348" width="198" height="124" rx="28" fill="#2c3a52" opacity="0.75" filter="url(#b3)"/><rect x="1176" y="1351" width="192" height="118" rx="25" fill="#2f8de3"/><rect x="1180" y="1355" width="184" height="110" rx="22" fill="none" stroke="#58b4f0" stroke-width="1.5" opacity="0.7"/><rect x="1183" y="1364" width="165" height="99" rx="17" fill="url(#foot)"/><rect x="1183" y="1364" width="165" height="99" rx="17" fill="none" stroke="#7fd4fb" stroke-width="1.5" opacity="0.8"/>
<path d="M1036.9,1386 q4.5,3.3 0,6.6 q-4.5,3.3 0,6.6 q4.5,3.3 0,6.6 q-4.5,3.3 0,6.6 q4.5,3.3 0,6.6 q-4.5,3.3 0,6.6 q4.5,3.3 0,6.6 q-4.5,3.3 0,6.6" fill="none" stroke="#f4d04c" stroke-width="4.2" stroke-linecap="round"/>
<path d="M1091.7,1386 q4.5,3.3 0,6.6 q-4.5,3.3 0,6.6 q4.5,3.3 0,6.6 q-4.5,3.3 0,6.6 q4.5,3.3 0,6.6 q-4.5,3.3 0,6.6 q4.5,3.3 0,6.6 q-4.5,3.3 0,6.6" fill="none" stroke="#f4d04c" stroke-width="4.2" stroke-linecap="round"/>
<path d="M1233.7,1386 q4.5,3.3 0,6.6 q-4.5,3.3 0,6.6 q4.5,3.3 0,6.6 q-4.5,3.3 0,6.6 q4.5,3.3 0,6.6 q-4.5,3.3 0,6.6 q4.5,3.3 0,6.6 q-4.5,3.3 0,6.6" fill="none" stroke="#f4d04c" stroke-width="4.2" stroke-linecap="round"/>
<path d="M1290,1386 q4.5,3.3 0,6.6 q-4.5,3.3 0,6.6 q4.5,3.3 0,6.6 q-4.5,3.3 0,6.6 q4.5,3.3 0,6.6 q-4.5,3.3 0,6.6 q4.5,3.3 0,6.6 q-4.5,3.3 0,6.6" fill="none" stroke="#f4d04c" stroke-width="4.2" stroke-linecap="round"/>
<line x1="621" y1="240" x2="928" y2="240" stroke="#e86f2c" stroke-width="2.6" stroke-dasharray="11 10.6"/>
<line x1="621" y1="444" x2="928" y2="444" stroke="#e86f2c" stroke-width="2.6" stroke-dasharray="11 10.6"/>
<line x1="611" y1="567.5" x2="917" y2="567.5" stroke="#e86f2c" stroke-width="2.6" stroke-dasharray="11 10.6"/>
<line x1="611" y1="767.5" x2="896" y2="767.5" stroke="#e86f2c" stroke-width="2.6" stroke-dasharray="11 10.6"/>
<line x1="621" y1="939.6" x2="964" y2="939.6" stroke="#e86f2c" stroke-width="2.6" stroke-dasharray="11 10.6"/>
<line x1="621" y1="1037" x2="943" y2="1037" stroke="#e86f2c" stroke-width="2.6" stroke-dasharray="11 10.6"/>
<line x1="621" y1="1191" x2="943" y2="1191" stroke="#e86f2c" stroke-width="2.6" stroke-dasharray="11 10.6"/>
<line x1="621" y1="1376.4" x2="901" y2="1376.4" stroke="#e86f2c" stroke-width="2.6" stroke-dasharray="11 10.6"/>
<line x1="621" y1="1524.7" x2="901" y2="1524.7" stroke="#e86f2c" stroke-width="2.6" stroke-dasharray="11 10.6"/>
<path d="M0,0 L-106.8,-35.1 L-98.2,-3.1 C-140,-3 -200,40 -225.4,74.9 L-210.5,142.7 C-180,95 -125,45 -85.8,41.4 L-74.9,76.5 Z" transform="translate(1080.2,768.2) scale(0.731,0.731)" fill="#f9a90c"/><path d="M0,0 L-106.8,-35.1 L-98.2,-3.1 C-140,-3 -200,40 -225.4,74.9 L-210.5,142.7 C-180,95 -125,45 -85.8,41.4 L-74.9,76.5 Z" transform="translate(1078.7,766.3666666666667) scale(0.731,0.731)" fill="#f9a90c"/><path d="M0,0 L-106.8,-35.1 L-98.2,-3.1 C-140,-3 -200,40 -225.4,74.9 L-210.5,142.7 C-180,95 -125,45 -85.8,41.4 L-74.9,76.5 Z" transform="translate(1077.2,764.5333333333334) scale(0.731,0.731)" fill="#f9a90c"/><path d="M0,0 L-106.8,-35.1 L-98.2,-3.1 C-140,-3 -200,40 -225.4,74.9 L-210.5,142.7 C-180,95 -125,45 -85.8,41.4 L-74.9,76.5 Z" transform="translate(1075.7,762.7) scale(0.731,0.731)" fill="#f9a90c"/><path d="M0,0 L-106.8,-35.1 L-98.2,-3.1 C-140,-3 -200,40 -225.4,74.9 L-210.5,142.7 C-180,95 -125,45 -85.8,41.4 L-74.9,76.5 Z" transform="translate(1074.2,760.8666666666667) scale(0.731,0.731)" fill="#f9a90c"/><path d="M0,0 L-106.8,-35.1 L-98.2,-3.1 C-140,-3 -200,40 -225.4,74.9 L-210.5,142.7 C-180,95 -125,45 -85.8,41.4 L-74.9,76.5 Z" transform="translate(1072.7,759.0333333333334) scale(0.731,0.731)" fill="#f9a90c"/><path d="M0,0 L-106.8,-35.1 L-98.2,-3.1 C-140,-3 -200,40 -225.4,74.9 L-210.5,142.7 C-180,95 -125,45 -85.8,41.4 L-74.9,76.5 Z" transform="translate(1071.2,757.2) scale(0.731,0.731)" fill="#ffe35c" stroke="#f5b020" stroke-width="1.64"/>
<path d="M0,0 L-106.8,-35.1 L-98.2,-3.1 C-140,-3 -200,40 -225.4,74.9 L-210.5,142.7 C-180,95 -125,45 -85.8,41.4 L-74.9,76.5 Z" transform="translate(1237.8,771.0) scale(-0.731,0.731)" fill="#f9a90c"/><path d="M0,0 L-106.8,-35.1 L-98.2,-3.1 C-140,-3 -200,40 -225.4,74.9 L-210.5,142.7 C-180,95 -125,45 -85.8,41.4 L-74.9,76.5 Z" transform="translate(1239.3,769.1666666666666) scale(-0.731,0.731)" fill="#f9a90c"/><path d="M0,0 L-106.8,-35.1 L-98.2,-3.1 C-140,-3 -200,40 -225.4,74.9 L-210.5,142.7 C-180,95 -125,45 -85.8,41.4 L-74.9,76.5 Z" transform="translate(1240.8,767.3333333333334) scale(-0.731,0.731)" fill="#f9a90c"/><path d="M0,0 L-106.8,-35.1 L-98.2,-3.1 C-140,-3 -200,40 -225.4,74.9 L-210.5,142.7 C-180,95 -125,45 -85.8,41.4 L-74.9,76.5 Z" transform="translate(1242.3,765.5) scale(-0.731,0.731)" fill="#f9a90c"/><path d="M0,0 L-106.8,-35.1 L-98.2,-3.1 C-140,-3 -200,40 -225.4,74.9 L-210.5,142.7 C-180,95 -125,45 -85.8,41.4 L-74.9,76.5 Z" transform="translate(1243.8,763.6666666666666) scale(-0.731,0.731)" fill="#f9a90c"/><path d="M0,0 L-106.8,-35.1 L-98.2,-3.1 C-140,-3 -200,40 -225.4,74.9 L-210.5,142.7 C-180,95 -125,45 -85.8,41.4 L-74.9,76.5 Z" transform="translate(1245.3,761.8333333333334) scale(-0.731,0.731)" fill="#f9a90c"/><path d="M0,0 L-106.8,-35.1 L-98.2,-3.1 C-140,-3 -200,40 -225.4,74.9 L-210.5,142.7 C-180,95 -125,45 -85.8,41.4 L-74.9,76.5 Z" transform="translate(1246.8,760) scale(-0.731,0.731)" fill="#ffe35c" stroke="#f5b020" stroke-width="1.64"/>
<path d="M0,0 L-106.8,-35.1 L-98.2,-3.1 C-140,-3 -200,40 -225.4,74.9 L-210.5,142.7 C-180,95 -125,45 -85.8,41.4 L-74.9,76.5 Z" transform="translate(1064.5,1124.0) scale(1.0,1.0)" fill="#f9a90c"/><path d="M0,0 L-106.8,-35.1 L-98.2,-3.1 C-140,-3 -200,40 -225.4,74.9 L-210.5,142.7 C-180,95 -125,45 -85.8,41.4 L-74.9,76.5 Z" transform="translate(1063.0,1122.1666666666667) scale(1.0,1.0)" fill="#f9a90c"/><path d="M0,0 L-106.8,-35.1 L-98.2,-3.1 C-140,-3 -200,40 -225.4,74.9 L-210.5,142.7 C-180,95 -125,45 -85.8,41.4 L-74.9,76.5 Z" transform="translate(1061.5,1120.3333333333333) scale(1.0,1.0)" fill="#f9a90c"/><path d="M0,0 L-106.8,-35.1 L-98.2,-3.1 C-140,-3 -200,40 -225.4,74.9 L-210.5,142.7 C-180,95 -125,45 -85.8,41.4 L-74.9,76.5 Z" transform="translate(1060.0,1118.5) scale(1.0,1.0)" fill="#f9a90c"/><path d="M0,0 L-106.8,-35.1 L-98.2,-3.1 C-140,-3 -200,40 -225.4,74.9 L-210.5,142.7 C-180,95 -125,45 -85.8,41.4 L-74.9,76.5 Z" transform="translate(1058.5,1116.6666666666667) scale(1.0,1.0)" fill="#f9a90c"/><path d="M0,0 L-106.8,-35.1 L-98.2,-3.1 C-140,-3 -200,40 -225.4,74.9 L-210.5,142.7 C-180,95 -125,45 -85.8,41.4 L-74.9,76.5 Z" transform="translate(1057.0,1114.8333333333333) scale(1.0,1.0)" fill="#f9a90c"/><path d="M0,0 L-106.8,-35.1 L-98.2,-3.1 C-140,-3 -200,40 -225.4,74.9 L-210.5,142.7 C-180,95 -125,45 -85.8,41.4 L-74.9,76.5 Z" transform="translate(1055.5,1113) scale(1.0,1.0)" fill="#ffe35c" stroke="#f5b020" stroke-width="1.20"/>
<path d="M0,0 L-106.8,-35.1 L-98.2,-3.1 C-140,-3 -200,40 -225.4,74.9 L-210.5,142.7 C-180,95 -125,45 -85.8,41.4 L-74.9,76.5 Z" transform="translate(1253.5,1128.0) scale(-1.0,1.0)" fill="#f9a90c"/><path d="M0,0 L-106.8,-35.1 L-98.2,-3.1 C-140,-3 -200,40 -225.4,74.9 L-210.5,142.7 C-180,95 -125,45 -85.8,41.4 L-74.9,76.5 Z" transform="translate(1255.0,1126.1666666666667) scale(-1.0,1.0)" fill="#f9a90c"/><path d="M0,0 L-106.8,-35.1 L-98.2,-3.1 C-140,-3 -200,40 -225.4,74.9 L-210.5,142.7 C-180,95 -125,45 -85.8,41.4 L-74.9,76.5 Z" transform="translate(1256.5,1124.3333333333333) scale(-1.0,1.0)" fill="#f9a90c"/><path d="M0,0 L-106.8,-35.1 L-98.2,-3.1 C-140,-3 -200,40 -225.4,74.9 L-210.5,142.7 C-180,95 -125,45 -85.8,41.4 L-74.9,76.5 Z" transform="translate(1258.0,1122.5) scale(-1.0,1.0)" fill="#f9a90c"/><path d="M0,0 L-106.8,-35.1 L-98.2,-3.1 C-140,-3 -200,40 -225.4,74.9 L-210.5,142.7 C-180,95 -125,45 -85.8,41.4 L-74.9,76.5 Z" transform="translate(1259.5,1120.6666666666667) scale(-1.0,1.0)" fill="#f9a90c"/><path d="M0,0 L-106.8,-35.1 L-98.2,-3.1 C-140,-3 -200,40 -225.4,74.9 L-210.5,142.7 C-180,95 -125,45 -85.8,41.4 L-74.9,76.5 Z" transform="translate(1261.0,1118.8333333333333) scale(-1.0,1.0)" fill="#f9a90c"/><path d="M0,0 L-106.8,-35.1 L-98.2,-3.1 C-140,-3 -200,40 -225.4,74.9 L-210.5,142.7 C-180,95 -125,45 -85.8,41.4 L-74.9,76.5 Z" transform="translate(1262.5,1117) scale(-1.0,1.0)" fill="#ffe35c" stroke="#f5b020" stroke-width="1.20"/>
<circle cx="949" cy="240" r="15.8" fill="none" stroke="#d8601e" stroke-width="2.3"/>
<line x1="937" y1="240" x2="943" y2="240" stroke="#c86a2a" stroke-width="2.2"/>
<circle cx="949" cy="240" r="7.3" fill="#f45a0a"/>
<circle cx="949" cy="444" r="15.8" fill="none" stroke="#d8601e" stroke-width="2.3"/>
<line x1="937" y1="444" x2="943" y2="444" stroke="#c86a2a" stroke-width="2.2"/>
<circle cx="949" cy="444" r="7.3" fill="#f45a0a"/>
<circle cx="938" cy="567.5" r="15.8" fill="none" stroke="#d8601e" stroke-width="2.3"/>
<line x1="926" y1="567.5" x2="932" y2="567.5" stroke="#c86a2a" stroke-width="2.2"/>
<circle cx="938" cy="567.5" r="7.3" fill="#f45a0a"/>
<circle cx="917" cy="767.5" r="15.8" fill="none" stroke="#d8601e" stroke-width="2.3"/>
<line x1="905" y1="767.5" x2="911" y2="767.5" stroke="#c86a2a" stroke-width="2.2"/>
<circle cx="917" cy="767.5" r="7.3" fill="#f45a0a"/>
<circle cx="985" cy="939.6" r="15.8" fill="none" stroke="#d8601e" stroke-width="2.3"/>
<line x1="973" y1="939.6" x2="979" y2="939.6" stroke="#c86a2a" stroke-width="2.2"/>
<circle cx="985" cy="939.6" r="7.3" fill="#f45a0a"/>
<circle cx="964" cy="1037" r="15.8" fill="none" stroke="#d8601e" stroke-width="2.3"/>
<line x1="952" y1="1037" x2="958" y2="1037" stroke="#c86a2a" stroke-width="2.2"/>
<circle cx="964" cy="1037" r="7.3" fill="#f45a0a"/>
<circle cx="964" cy="1191" r="15.8" fill="none" stroke="#d8601e" stroke-width="2.3"/>
<line x1="952" y1="1191" x2="958" y2="1191" stroke="#c86a2a" stroke-width="2.2"/>
<circle cx="964" cy="1191" r="7.3" fill="#f45a0a"/>
<circle cx="922" cy="1376.4" r="15.8" fill="none" stroke="#d8601e" stroke-width="2.3"/>
<line x1="910" y1="1376.4" x2="916" y2="1376.4" stroke="#c86a2a" stroke-width="2.2"/>
<circle cx="922" cy="1376.4" r="7.3" fill="#f45a0a"/>
<circle cx="922" cy="1524.7" r="15.8" fill="none" stroke="#d8601e" stroke-width="2.3"/>
<line x1="910" y1="1524.7" x2="916" y2="1524.7" stroke="#c86a2a" stroke-width="2.2"/>
<circle cx="922" cy="1524.7" r="7.3" fill="#f45a0a"/>
</svg>
<div class="pill" style="top:202px"></div>
<div class="t" style="top:218.85px"><span id="t0" style="transform:scaleX(0.9324)">Neck Kneading Massage</span></div>
<div class="pill" style="top:406.5px"></div>
<div class="t" style="top:423.35px"><span id="t1" style="transform:scaleX(0.9541)">Back Heating</span></div>
<div class="pill" style="top:530px"></div>
<div class="t" style="top:546.85px"><span id="t2" style="transform:scaleX(0.9364)">Back Airbag</span></div>
<div class="pill" style="top:730px"></div>
<div class="t" style="top:746.85px"><span id="t3" style="transform:scaleX(0.9537)">Lumbar Airbag</span></div>
<div class="pill" style="top:902px"></div>
<div class="t" style="top:918.85px"><span id="t4" style="transform:scaleX(0.9740)">Lumbar Heating</span></div>
<div class="pill" style="top:1000px"></div>
<div class="t" style="top:1016.85px"><span id="t5" style="transform:scaleX(0.9537)">Vibration Zone</span></div>
<div class="pill" style="top:1154px"></div>
<div class="t" style="top:1170.85px"><span id="t6" style="transform:scaleX(0.9273)">Leg Airbag</span></div>
<div class="pill" style="top:1339px"></div>
<div class="t" style="top:1355.85px"><span id="t7" style="transform:scaleX(0.9758)">Intelligent hand control</span></div>
<div class="pill" style="top:1487px"></div>
<div class="t" style="top:1503.85px"><span id="t8" style="transform:scaleX(0.9831)">Skin-friendly material</span></div>
<div class="s" style="top:293.34px"><span id="s0" style="transform:scaleX(1.0227)">Shoulder turn kneading massage</span></div>
<div class="s" style="top:618.85px"><span id="s1" style="transform:scaleX(1.0300)">Back Stretching Traction</span></div>
<div class="s" style="top:818.95px"><span id="s2" style="transform:scaleX(1.0127)">Lumbar side to side swing +</span></div>
<div class="s" style="top:850.95px"><span id="s3" style="transform:scaleX(1.0490)">traction + adjustment</span></div>
<div class="s" style="top:1086.24px"><span id="s4" style="transform:scaleX(1.0223)">High Frequency Vibration Relaxation</span></div>
<div class="s" style="top:1242.94px"><span id="s5" style="transform:scaleX(1.0311)">Enlarged and widened clamping and</span></div>
<div class="s" style="top:1274.35px"><span id="s6" style="transform:scaleX(1.0486)">kneading relaxation</span></div>
<div class="s" style="top:1427.74px"><span id="s7" style="transform:scaleX(1.0236)">Fully automatic massage</span></div>
<div class="s" style="top:1574.94px"><span id="s8" style="transform:scaleX(1.0069)">Durable and easy to clean</span></div>
</body></html>
